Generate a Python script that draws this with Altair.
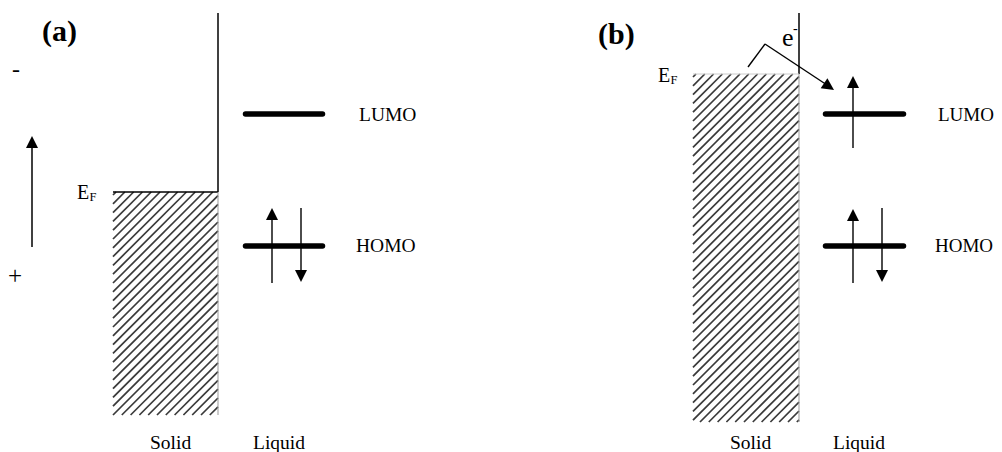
import altair as alt
import pandas as pd

# ---------------- diagram data (page-pixel coordinates) ----------------
# energy levels of the liquid (LUMO / HOMO) for panels a and b
level_x1 = [245.5, 245.5, 825.5, 825.5]
level_x2 = [322.5, 322.5, 903.5, 903.5]
level_y = [114, 246, 114, 246]

# solid bands: left, right, top (Fermi level), bottom
band_left = [113, 693]
band_right = [218, 799]
band_top = [192, 74]
band_bottom = [415, 422]

# thin lines: x, y, x2, y2, width, colour
line_x = [218, 113, 218, 32, 272, 301, 799, 693, 799, 853, 853, 882, 748, 765]
line_y = [13, 192, 192, 247, 283, 208, 13, 74, 74, 148, 283, 208, 67, 44]
line_x2 = [218, 218, 218, 32, 272, 301, 799, 799, 799, 853, 853, 882, 765, 827]
line_y2 = [192, 192, 415, 146, 218, 272, 74, 74, 422, 86, 219, 272, 44, 85]
line_w = [1.5, 1.5, 1.0, 1.5, 1.4, 1.4, 1.5, 1.0, 1.0, 1.4, 1.4, 1.4, 1.4, 1.4]
line_c = ["#000", "#000", "#999", "#000", "#000", "#000", "#000", "#ccc", "#999",
          "#000", "#000", "#000", "#000", "#000"]

# arrow heads: tip position and direction (degrees clockwise from up)
head_x = [32, 272, 301, 853, 853, 882, 834]
head_y = [136, 208, 282, 76, 209, 282, 90]
head_ang = [0, 0, 180, 0, 0, 180, 124]

# labels
lab_text = ["LUMO", "HOMO", "LUMO", "HOMO", "Solid", "Liquid", "Solid", "Liquid",
            "E", "E", "-", "+", "e"]
lab_x = [359, 356, 938, 935, 150, 253, 730, 833, 77, 658, 12, 8, 782]
lab_y = [121, 252, 121, 252, 449, 449, 449, 449, 199, 82, 77, 284, 46]
lab_size = [19.5, 19.5, 19, 19, 19.5, 19.5, 19.5, 19.5, 20, 20, 24, 25, 26]

sub_text = ["F", "F", "-"]
sub_x = [89.5, 670.5, 793]
sub_y = [201, 84, 33]
sub_size = [12.5, 12.5, 14]

panel_text = ["(a)", "(b)"]
panel_x = [42, 598]
panel_y = [41, 44]

# ---------------- build tables ----------------
hatch_rows = []
spacing = 8.8
for x0, x1, y0, y1 in zip(band_left, band_right, band_top, band_bottom):
    c = x0 + y0 + 3
    while c < x1 + y1:
        xa = max(x0, c - y1)
        xb = min(x1, c - y0)
        if xb > xa:
            hatch_rows.append({"x": xa, "y": c - xa, "x2": xb, "y2": c - xb})
        c += spacing
hatch_df = pd.DataFrame(hatch_rows)

levels_df = pd.DataFrame({"x": level_x1, "x2": level_x2, "y": level_y, "y2": level_y})
lines_df = pd.DataFrame({"x": line_x, "y": line_y, "x2": line_x2, "y2": line_y2,
                         "w": line_w, "c": line_c})
heads_df = pd.DataFrame({"x": head_x, "y": head_y, "ang": head_ang})
labels_df = pd.DataFrame({"x": lab_x, "y": lab_y, "t": lab_text, "s": lab_size})
subs_df = pd.DataFrame({"x": sub_x, "y": sub_y, "t": sub_text, "s": sub_size})
panels_df = pd.DataFrame({"x": panel_x, "y": panel_y, "t": panel_text})

xs = alt.Scale(domain=[8, 994])
ys = alt.Scale(domain=[8, 452], reverse=True)
X = lambda f="x": alt.X(f"{f}:Q", scale=xs, axis=None)
Y = lambda f="y": alt.Y(f"{f}:Q", scale=ys, axis=None)

hatch = alt.Chart(hatch_df).mark_rule(color="#3a3a3a", strokeWidth=1.7).encode(
    x=X(), y=Y(), x2="x2:Q", y2="y2:Q")

lines = alt.Chart(lines_df).mark_rule().encode(
    x=X(), y=Y(), x2="x2:Q", y2="y2:Q",
    strokeWidth=alt.StrokeWidth("w:Q", scale=None),
    color=alt.Color("c:N", scale=None))

levels = alt.Chart(levels_df).mark_rule(color="#000", strokeWidth=5.5, strokeCap="round").encode(
    x=X(), y=Y(), x2="x2:Q", y2="y2:Q")

heads = alt.Chart(heads_df).mark_point(
    shape="M0,0L-6,12L6,12Z", size=4, filled=True, color="#000", opacity=1, strokeWidth=0
).encode(x=X(), y=Y(), angle=alt.Angle("ang:Q", scale=None))

font = "Liberation Serif"
labels = alt.Chart(labels_df).mark_text(
    font=font, align="left", baseline="alphabetic", color="#000"
).encode(x=X(), y=Y(), text="t:N", size=alt.Size("s:Q", scale=None))

subs = alt.Chart(subs_df).mark_text(
    font=font, align="left", baseline="alphabetic", color="#000"
).encode(x=X(), y=Y(), text="t:N", size=alt.Size("s:Q", scale=None))

panels = alt.Chart(panels_df).mark_text(
    font=font, align="left", baseline="alphabetic", color="#000", fontSize=30, fontWeight="bold"
).encode(x=X(), y=Y(), text="t:N")

chart = alt.layer(hatch, lines, levels, heads, labels, subs, panels).properties(
    width=986, height=444, padding=0,
    autosize=alt.AutoSizeParams(type="none"),
    background="white",
).configure_view(strokeWidth=0)

chart.save("out.html", embed_options={"renderer": "svg", "actions": False})
